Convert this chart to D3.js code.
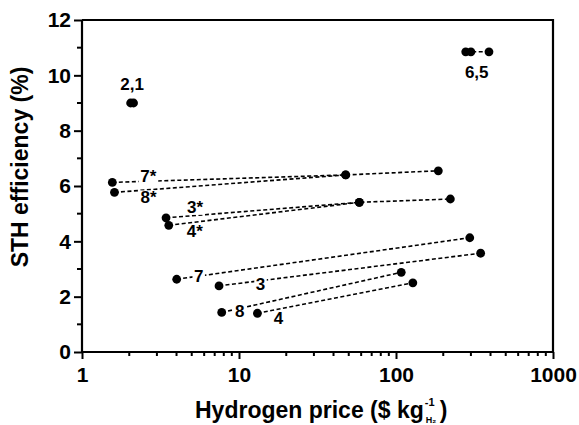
<!DOCTYPE html>
<html>
<head>
<meta charset="utf-8">
<script src="https://cdn.jsdelivr.net/npm/d3@7/dist/d3.min.js"></script>
<style>
  html, body { margin: 0; padding: 0; background: #fff; }
  svg { display: block; }
  text { font-family: Arial, "Liberation Sans", sans-serif; font-weight: bold; fill: #000; }
</style>
</head>
<body>
<svg id="chart" width="579" height="425"></svg>
<script>
// ---- Data ----
const seriesLabels = ["2,1", "6,5", "7*", "8*", "3*", "4*", "7", "3", "8", "4"];
const seriesPrices = [
  [2.04, 2.13],
  [278, 300, 391],
  [1.56, 47.8, 186],
  [1.61, 47.8],
  [3.43, 58.4, 222],
  [3.57, 58.4],
  [4.01, 295],
  [7.46, 346],
  [7.76, 108],
  [13.1, 128]
];
const seriesEff = [
  [9.0, 9.0],
  [10.85, 10.85, 10.85],
  [6.13, 6.40, 6.55],
  [5.77, 6.40],
  [4.85, 5.41, 5.53],
  [4.58, 5.41],
  [2.63, 4.13],
  [2.39, 3.57],
  [1.43, 2.88],
  [1.40, 2.50]
];
const xTickValues = [1, 10, 100, 1000];
const yTickValues = [0, 2, 4, 6, 8, 10, 12];
const yMinorValues = [1, 3, 5, 7, 9, 11];
const xTitle = "Hydrogen price ($ kg";
const yTitle = "STH efficiency (%)";

// ---- Layout (label offsets in px from each series' first point) ----
const labelOffsets = [
  [1.5, -13], [11, 26], [36, 0], [34, 11], [29, -5],
  [26, 12], [22, 3], [41.5, 4], [18, 5], [21, 11]
];

const svg = d3.select("#chart");
const L = 82, R = 553, T = 20, B = 352;

const x = d3.scaleLog().domain([1, 1000]).range([L, R]);
const y = d3.scaleLinear().domain([0, 12]).range([B, T]);

// Minor ticks x
const xMinor = [];
[1, 10, 100].forEach(d => { for (let k = 2; k <= 9; k++) xMinor.push(d * k); });

// Axes
const xAxis = svg.append("g").attr("transform", `translate(0,${B})`)
  .call(d3.axisBottom(x).tickValues(xTickValues).tickFormat(d3.format("d")).tickSize(7).tickPadding(8));
const yAxis = svg.append("g").attr("transform", `translate(${L},0)`)
  .call(d3.axisLeft(y).tickValues(yTickValues).tickSize(8).tickPadding(3));

[xAxis, yAxis].forEach(g => {
  g.select(".domain").attr("stroke", "#000").attr("stroke-width", 2.2);
  g.selectAll(".tick line").attr("stroke", "#000").attr("stroke-width", 2);
  g.selectAll(".tick text").style("font-size", "21px").style("font-weight", "bold")
    .style("font-family", "Arial, 'Liberation Sans', sans-serif").attr("fill", "#000");
});
xAxis.select(".domain").attr("d", `M${L},0H${R}`);
yAxis.select(".domain").attr("d", `M0,${B}V${T}`);

xAxis.selectAll(".minor").data(xMinor).enter().append("line")
  .attr("x1", d => x(d)).attr("x2", d => x(d)).attr("y1", 0).attr("y2", 4)
  .attr("stroke", "#000").attr("stroke-width", 2);
yAxis.selectAll(".minor").data(yMinorValues).enter().append("line")
  .attr("y1", d => y(d)).attr("y2", d => y(d)).attr("x1", 0).attr("x2", -5)
  .attr("stroke", "#000").attr("stroke-width", 2);

// Frame top / right
svg.append("path").attr("d", `M${L},${T}H${R}V${B}`)
  .attr("fill", "none").attr("stroke", "#000").attr("stroke-width", 2.2);

// Lines
const lineGen = d3.line().x(d => x(d[0])).y(d => y(d[1]));
const seriesPts = seriesLabels.map((_, i) => seriesPrices[i].map((p, j) => [p, seriesEff[i][j]]));

svg.append("g").selectAll("path").data(seriesPts).enter().append("path")
  .attr("d", d => lineGen(d))
  .attr("fill", "none").attr("stroke", "#000").attr("stroke-width", 1.6)
  .attr("stroke-dasharray", "4,2.5");

// Labels with white background
const lblG = svg.append("g");
seriesLabels.forEach((name, i) => {
  const p = seriesPts[i][0];
  const cx = x(p[0]) + labelOffsets[i][0];
  const by = y(p[1]) + labelOffsets[i][1];
  const g = lblG.append("g");
  const t = g.append("text").attr("x", cx).attr("y", by).attr("text-anchor", "middle")
    .style("font-size", "17px").text(name);
  const bb = t.node().getBBox();
  g.insert("rect", "text").attr("x", bb.x - 1.5).attr("y", by - 13).attr("width", bb.width + 3).attr("height", 15)
    .attr("fill", "#fff");
});

// Dots
svg.append("g").selectAll("circle").data(seriesPts.flat()).enter().append("circle")
  .attr("cx", d => x(d[0])).attr("cy", d => y(d[1])).attr("r", 4.4).attr("fill", "#000");

// Axis titles
svg.append("text").attr("transform", `translate(28,${(T + B) / 2 - 19}) rotate(-90)`)
  .attr("text-anchor", "middle").style("font-size", "23px").text(yTitle);

const xt = svg.append("text").attr("x", 195).attr("y", 418).style("font-size", "23px").text(xTitle);
const xtEnd = 195 + xt.node().getComputedTextLength();
svg.append("text").attr("x", xtEnd + 1).attr("y", 406).style("font-size", "11px").text("-1");
svg.append("text").attr("x", xtEnd + 2).attr("y", 423).style("font-size", "9px").text("H\u2082");
svg.append("text").attr("x", xtEnd + 16).attr("y", 418).style("font-size", "23px").text(")");
</script>
</body>
</html>
